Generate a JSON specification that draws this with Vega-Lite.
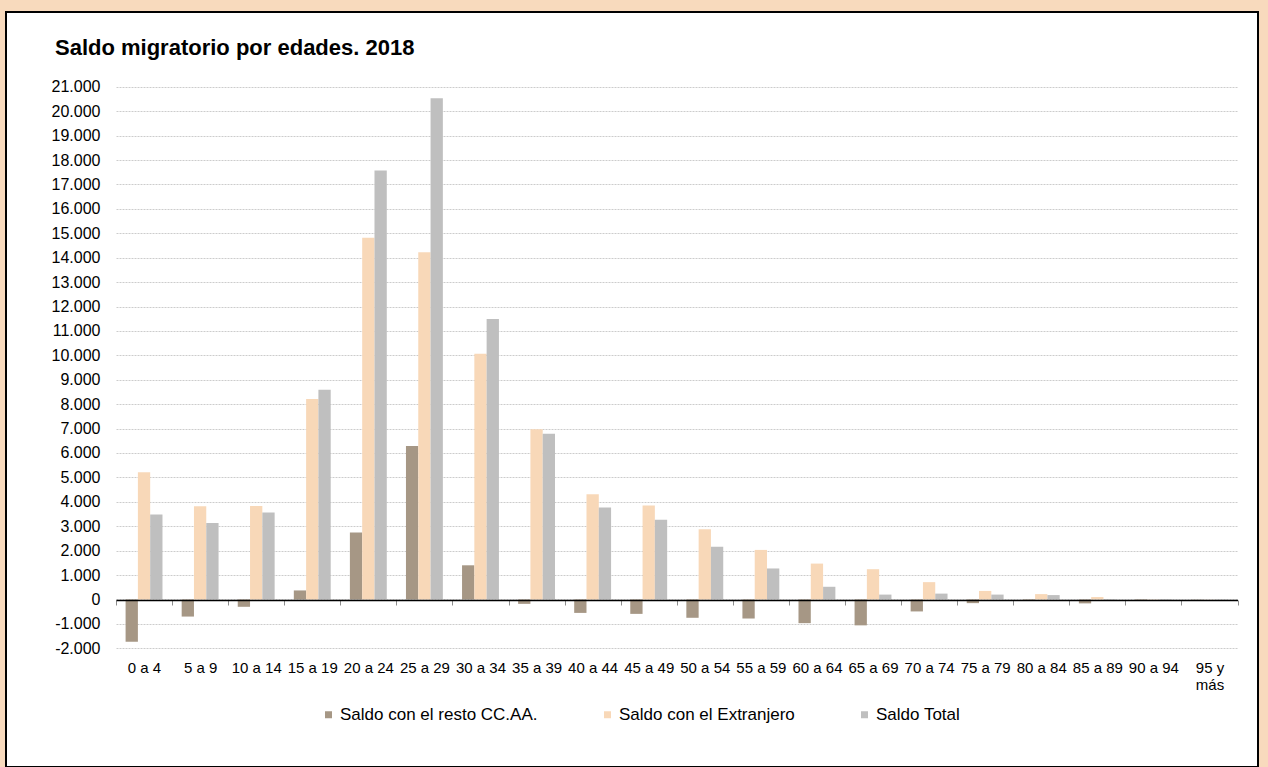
{
  "$schema": "https://vega.github.io/schema/vega-lite/v6.json",
  "autosize": {"type": "none"},
  "width": 1252,
  "height": 755,
  "padding": {"left": 6, "top": 12, "right": 10, "bottom": 0},
  "background": "#f8dabd",
  "config": {
    "view": {"fill": "white", "stroke": "black", "strokeWidth": 2},
    "font": "Liberation Sans"
  },
  "title": {
    "text": "Saldo migratorio por edades. 2018",
    "anchor": "start",
    "frame": "group",
    "offset": -44,
    "dx": 49,
    "dy": 20.5,
    "baseline": "alphabetic",
    "fontSize": 22,
    "fontWeight": "bold",
    "color": "black"
  },
  "data": {
    "values": [
      {"edad": "0 a 4", "serie": "Saldo con el resto CC.AA.", "valor": -1730},
      {"edad": "0 a 4", "serie": "Saldo con el Extranjero", "valor": 5210},
      {"edad": "0 a 4", "serie": "Saldo Total", "valor": 3480},
      {"edad": "5 a 9", "serie": "Saldo con el resto CC.AA.", "valor": -700},
      {"edad": "5 a 9", "serie": "Saldo con el Extranjero", "valor": 3820},
      {"edad": "5 a 9", "serie": "Saldo Total", "valor": 3130},
      {"edad": "10 a 14", "serie": "Saldo con el resto CC.AA.", "valor": -300},
      {"edad": "10 a 14", "serie": "Saldo con el Extranjero", "valor": 3830},
      {"edad": "10 a 14", "serie": "Saldo Total", "valor": 3560},
      {"edad": "15 a 19", "serie": "Saldo con el resto CC.AA.", "valor": 370},
      {"edad": "15 a 19", "serie": "Saldo con el Extranjero", "valor": 8210},
      {"edad": "15 a 19", "serie": "Saldo Total", "valor": 8590},
      {"edad": "20 a 24", "serie": "Saldo con el resto CC.AA.", "valor": 2740},
      {"edad": "20 a 24", "serie": "Saldo con el Extranjero", "valor": 14820},
      {"edad": "20 a 24", "serie": "Saldo Total", "valor": 17570},
      {"edad": "25 a 29", "serie": "Saldo con el resto CC.AA.", "valor": 6290},
      {"edad": "25 a 29", "serie": "Saldo con el Extranjero", "valor": 14220},
      {"edad": "25 a 29", "serie": "Saldo Total", "valor": 20530},
      {"edad": "30 a 34", "serie": "Saldo con el resto CC.AA.", "valor": 1400},
      {"edad": "30 a 34", "serie": "Saldo con el Extranjero", "valor": 10070},
      {"edad": "30 a 34", "serie": "Saldo Total", "valor": 11490},
      {"edad": "35 a 39", "serie": "Saldo con el resto CC.AA.", "valor": -180},
      {"edad": "35 a 39", "serie": "Saldo con el Extranjero", "valor": 6970},
      {"edad": "35 a 39", "serie": "Saldo Total", "valor": 6790},
      {"edad": "40 a 44", "serie": "Saldo con el resto CC.AA.", "valor": -550},
      {"edad": "40 a 44", "serie": "Saldo con el Extranjero", "valor": 4310},
      {"edad": "40 a 44", "serie": "Saldo Total", "valor": 3770},
      {"edad": "45 a 49", "serie": "Saldo con el resto CC.AA.", "valor": -590},
      {"edad": "45 a 49", "serie": "Saldo con el Extranjero", "valor": 3850},
      {"edad": "45 a 49", "serie": "Saldo Total", "valor": 3270},
      {"edad": "50 a 54", "serie": "Saldo con el resto CC.AA.", "valor": -750},
      {"edad": "50 a 54", "serie": "Saldo con el Extranjero", "valor": 2880},
      {"edad": "50 a 54", "serie": "Saldo Total", "valor": 2160},
      {"edad": "55 a 59", "serie": "Saldo con el resto CC.AA.", "valor": -780},
      {"edad": "55 a 59", "serie": "Saldo con el Extranjero", "valor": 2030},
      {"edad": "55 a 59", "serie": "Saldo Total", "valor": 1270},
      {"edad": "60 a 64", "serie": "Saldo con el resto CC.AA.", "valor": -970},
      {"edad": "60 a 64", "serie": "Saldo con el Extranjero", "valor": 1470},
      {"edad": "60 a 64", "serie": "Saldo Total", "valor": 520},
      {"edad": "65 a 69", "serie": "Saldo con el resto CC.AA.", "valor": -1060},
      {"edad": "65 a 69", "serie": "Saldo con el Extranjero", "valor": 1240},
      {"edad": "65 a 69", "serie": "Saldo Total", "valor": 200},
      {"edad": "70 a 74", "serie": "Saldo con el resto CC.AA.", "valor": -490},
      {"edad": "70 a 74", "serie": "Saldo con el Extranjero", "valor": 710},
      {"edad": "70 a 74", "serie": "Saldo Total", "valor": 240},
      {"edad": "75 a 79", "serie": "Saldo con el resto CC.AA.", "valor": -150},
      {"edad": "75 a 79", "serie": "Saldo con el Extranjero", "valor": 350},
      {"edad": "75 a 79", "serie": "Saldo Total", "valor": 200},
      {"edad": "80 a 84", "serie": "Saldo con el resto CC.AA.", "valor": -50},
      {"edad": "80 a 84", "serie": "Saldo con el Extranjero", "valor": 220},
      {"edad": "80 a 84", "serie": "Saldo Total", "valor": 180},
      {"edad": "85 a 89", "serie": "Saldo con el resto CC.AA.", "valor": -160},
      {"edad": "85 a 89", "serie": "Saldo con el Extranjero", "valor": 100},
      {"edad": "85 a 89", "serie": "Saldo Total", "valor": -60},
      {"edad": "90 a 94", "serie": "Saldo con el resto CC.AA.", "valor": -50},
      {"edad": "90 a 94", "serie": "Saldo con el Extranjero", "valor": 10},
      {"edad": "90 a 94", "serie": "Saldo Total", "valor": -40},
      {"edad": "95 y más", "serie": "Saldo con el resto CC.AA.", "valor": -10},
      {"edad": "95 y más", "serie": "Saldo con el Extranjero", "valor": 5},
      {"edad": "95 y más", "serie": "Saldo Total", "valor": -10}
    ]
  },
  "mark": {"type": "bar"},
  "encoding": {
    "x": {
      "field": "edad",
      "type": "nominal",
      "sort": null,
      "scale": {"range": [110, 1231.5], "paddingInner": 0, "paddingOuter": 0},
      "axis": {
        "orient": "bottom",
        "title": null,
        "tickBand": "extent",
        "domainColor": "black",
        "domainWidth": 1.5,
        "tickColor": "#8c8c8c",
        "tickSize": 5,
        "tickWidth": 1,
        "labelPadding": 55,
        "offset": -167,
        "labelFontSize": 15,
        "labelColor": "black",
        "labelAngle": 0,
        "labelBaseline": "top",
        "labelOverlap": false,
        "labelLineHeight": 17,
        "labelExpr": "datum.value == '95 y más' ? ['95 y', 'más'] : datum.label",
        "grid": false,
        "zindex": 1
      }
    },
    "xOffset": {
      "field": "serie",
      "type": "nominal",
      "sort": null,
      "scale": {"domain": ["Saldo con el resto CC.AA.", "Saldo con el Extranjero", "Saldo Total"], "paddingInner": 0, "paddingOuter": 0.78}
    },
    "y": {
      "field": "valor",
      "type": "quantitative",
      "scale": {"domain": [-2000, 21000], "range": [636.3, 74.8], "nice": false, "zero": false},
      "axis": {
        "title": null,
        "values": [-2000, -1000, 0, 1000, 2000, 3000, 4000, 5000, 6000, 7000, 8000, 9000, 10000, 11000, 12000, 13000, 14000, 15000, 16000, 17000, 18000, 19000, 20000, 21000],
        "labelExpr": "(datum.value < 0 ? '-' : '') + replace(format(abs(datum.value), ','), ',', '.')",
        "grid": true,
        "gridColor": "#cccccc",
        "gridDash": [2, 1],
        "gridWidth": 1,
        "domain": false,
        "ticks": false,
        "tickSize": 0,
        "labelPadding": 16,
        "offset": -110,
        "labelFontSize": 16,
        "labelColor": "black"
      }
    },
    "color": {
      "field": "serie",
      "type": "nominal",
      "scale": {
        "domain": ["Saldo con el resto CC.AA.", "Saldo con el Extranjero", "Saldo Total"],
        "range": ["#a69785", "#f8d8b8", "#bfbfbf"]
      },
      "legend": {
        "title": null,
        "orient": "none",
        "legendX": 314,
        "legendY": 694,
        "direction": "horizontal",
        "columns": 3,
        "columnPadding": 61,
        "symbolType": "square",
        "symbolSize": 49,
        "symbolStrokeWidth": 0,
        "labelOffset": 3,
        "labelFontSize": 17,
        "labelLimit": 400,
        "labelColor": "black"
      }
    }
  }
}
